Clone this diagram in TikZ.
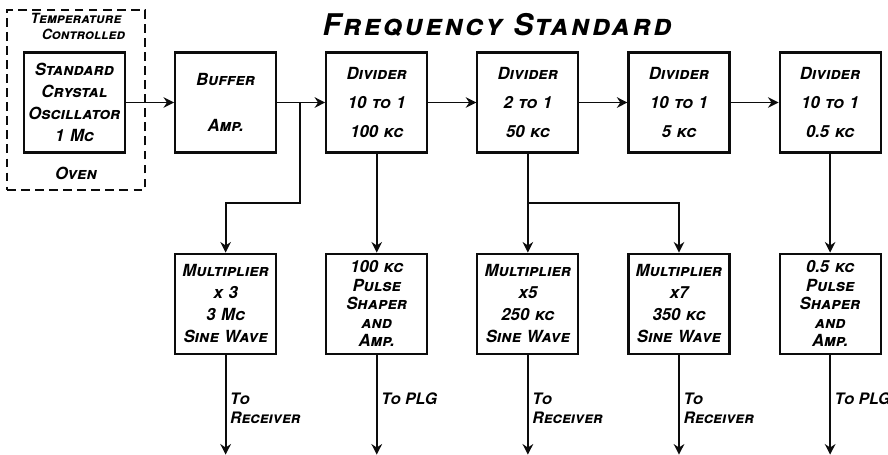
\documentclass[tikz,border=0pt]{standalone}
\usepackage{fontspec}
\setmainfont{TeX Gyre Heros}
\usepackage{tikz}
\usetikzlibrary{arrows.meta, positioning, calc}
\definecolor{inkblk}{RGB}{12,12,12}
\newcommand{\hand}{\bfseries\itshape\scshape}
\tikzset{
  block/.style={rectangle, draw=inkblk, text width=1.95cm, align=center,
    minimum width=2.02cm, minimum height=2.0cm, inner sep=1pt,
    font=\hand\fontsize{9.5}{12.5}\selectfont, line width=1.2pt},
  ovenbox/.style={rectangle, draw=inkblk, dash pattern=on 5pt off 3pt,
    minimum width=2.76cm, minimum height=3.6cm, line width=1pt},
  arrow/.style={-{Stealth[length=6pt, width=6pt]}, line width=1.1pt, color=inkblk},
  line/.style={line width=1.1pt, color=inkblk},
  outlbl/.style={anchor=north west, align=left, inner sep=1pt,
    font=\hand\fontsize{9}{11}\selectfont}
}

\begin{document}
\begin{tikzpicture}[node distance=1.98cm and 0.96cm]
  \useasboundingbox (0,0) rectangle (17.76,-9.08);

  % top row
  \node (osc) [block] at (1.49,-2.05) {Standard\\Crystal\\Oscillator\\1 Mc};
  \node (buffer) [block, right=of osc] {Buffer\\[14pt]Amp.};
  \node (div1) [block, right=of buffer] {Divider\\[4pt]10 to 1\\[4pt]100 kc};
  \node (div2) [block, right=of div1] {Divider\\[4pt]2 to 1\\[4pt]50 kc};
  \node (div3) [block, right=of div2] {Divider\\[4pt]10 to 1\\[4pt]5 kc};
  \node (div4) [block, right=of div3] {Divider\\[4pt]10 to 1\\[4pt]0.5 kc};

  % bottom row
  \node (mult3) [block, below=of buffer] {Multiplier\\x 3\\3 Mc\\Sine Wave};
  \node (pulse100) [block, below=of div1,
    font=\hand\fontsize{9.5}{10.5}\selectfont] {100 kc\\Pulse\\Shaper\\and\\Amp.};
  \node (mult5) [block, below=of div2] {Multiplier\\x5\\250 kc\\Sine Wave};
  \node (mult7) [block, below=of div3] {Multiplier\\x7\\350 kc\\Sine Wave};
  \node (pulse05) [block, below=of div4,
    font=\hand\fontsize{9.5}{10.5}\selectfont] {0.5 kc\\Pulse\\Shaper\\and\\Amp.};

  % oven round the oscillator
  \node (oven) [ovenbox] at (1.52,-2.0) {};
  \node (ovenlbl) [below=1pt of oven.north, align=center, inner sep=1pt,
    font=\hand\fontsize{8}{9.5}\selectfont] {Temperature\\\hspace*{0.3cm}Controlled};
  \node (ovenname) [above=5pt of oven.south, inner sep=1pt,
    font=\hand\fontsize{9.5}{11}\selectfont] {Oven};

  \node (title) [font=\hand\fontsize{17}{20}\selectfont\addfontfeature{LetterSpace=8}]
    at (9.94,-0.5) {Frequency Standard};

  % signal chain
  \draw [arrow] (osc) -- (buffer);
  \draw [arrow] (buffer) -- (div1);
  \draw [arrow] (div1) -- (div2);
  \draw [arrow] (div2) -- (div3);
  \draw [arrow] (div3) -- (div4);

  % branches
  \coordinate (tap1) at ($(buffer.east)!0.48!(div1.west)$);
  \coordinate (midlvl) at ($(buffer.south)!0.5!(mult3.north)$);
  \coordinate (tap2) at (div2.south |- midlvl);
  \draw [arrow] (tap1) |- (midlvl) -- (mult3.north);
  \draw [arrow] (div1) -- (pulse100);
  \draw [arrow] (div2) -- (mult5);
  \draw [arrow] (tap2) -| (mult7.north);
  \draw [arrow] (div4) -- (pulse05);

  % outputs
  \foreach \blk/\dest in {mult3/{To\\Receiver}, pulse100/{To PLG},
      mult5/{To\\Receiver}, mult7/{To\\Receiver}, pulse05/{To PLG}} {
    \coordinate (\blk-out) at ($(\blk.south)+(0,-2.0)$);
    \draw [arrow] (\blk.south) -- (\blk-out);
    \node (\blk-lbl) [outlbl] at ($(\blk.south)+(0.05,-0.72)$) {\dest};
  }
\end{tikzpicture}
\end{document}
